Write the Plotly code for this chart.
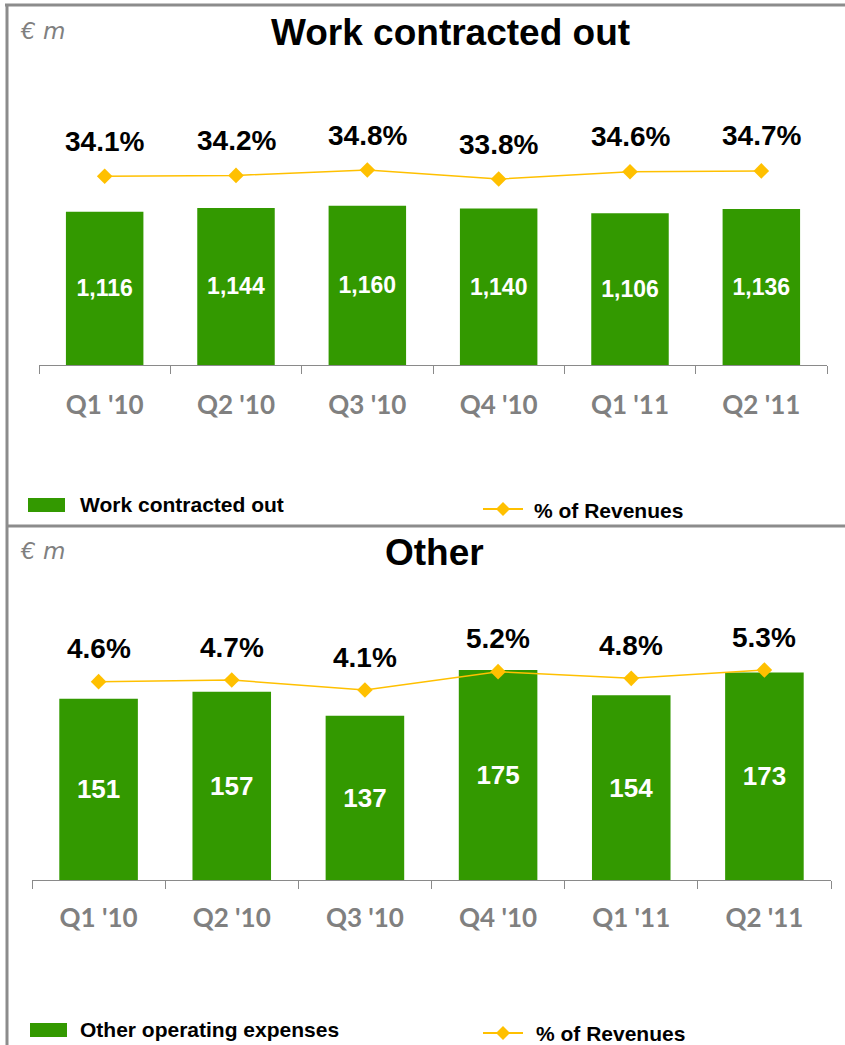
import plotly.graph_objects as go

# ---- data ----
quarters = ["Q1 '10", "Q2 '10", "Q3 '10", "Q4 '10", "Q1 '11", "Q2 '11"]
work_contracted = [1116, 1144, 1160, 1140, 1106, 1136]
work_pct = [34.1, 34.2, 34.8, 33.8, 34.6, 34.7]
other_expenses = [151, 157, 137, 175, 154, 173]
other_pct = [4.6, 4.7, 4.1, 5.2, 4.8, 5.3]

W, H = 845, 1045


def px(x):
    return x / W


def py(y):
    return 1 - y / H


GREEN = "#339900"
GOLD = "#FFC000"
GRAY = "#808080"
BORDER = "#8c8c8c"
ARIAL = "Liberation Sans, Arial, sans-serif"

fig = go.Figure()

fig.add_trace(go.Bar(
    x=quarters, y=work_contracted, xaxis="x", yaxis="y",
    marker=dict(color=GREEN, line=dict(width=0)),
    texttemplate="%{y:,}", textposition="inside", insidetextanchor="middle",
    textangle=0, constraintext="none",
    textfont=dict(family=ARIAL, size=23, color="white", weight="bold"),
    hoverinfo="skip", showlegend=False, name="Work contracted out"))
fig.add_trace(go.Scatter(
    x=quarters, y=work_pct, xaxis="x", yaxis="y2", mode="lines+markers",
    line=dict(color=GOLD, width=1.5),
    marker=dict(symbol="diamond", size=12, color=GOLD),
    hoverinfo="skip", showlegend=False, name="% of Revenues"))

fig.add_trace(go.Bar(
    x=quarters, y=other_expenses, xaxis="x2", yaxis="y3",
    marker=dict(color=GREEN, line=dict(width=0)),
    texttemplate="%{y:,}", textposition="inside", insidetextanchor="middle",
    textangle=0, constraintext="none",
    textfont=dict(family=ARIAL, size=26, color="white", weight="bold"),
    hoverinfo="skip", showlegend=False, name="Other operating expenses"))
fig.add_trace(go.Scatter(
    x=quarters, y=other_pct, xaxis="x2", yaxis="y4", mode="lines+markers",
    line=dict(color=GOLD, width=1.5),
    marker=dict(symbol="diamond", size=12, color=GOLD),
    hoverinfo="skip", showlegend=False, name="% of Revenues"))

xcommon = dict(type="category", range=[-0.5, 5.5], showline=True,
               linecolor="#8a8a8a", linewidth=1, ticks="outside",
               tickson="boundaries", ticklen=8, tickcolor="#8a8a8a",
               showgrid=False, zeroline=False,
               tickfont=dict(family="Lato, Open Sans, sans-serif", size=26,
                             color=GRAY, weight="bold"),
               fixedrange=True)

fig.update_layout(
    width=W, height=H,
    margin=dict(l=0, r=0, t=0, b=0),
    paper_bgcolor="white", plot_bgcolor="white",
    bargap=0.41,
    xaxis=dict(domain=[px(39), px(827)], anchor="y", ticklabelstandoff=17,
               **xcommon),
    yaxis=dict(domain=[py(365), py(100)], range=[0, 1930], visible=False),
    yaxis2=dict(overlaying="y", range=[13.13, 42.58], visible=False),
    xaxis2=dict(domain=[px(32), px(831)], anchor="y3", ticklabelstandoff=15,
                **xcommon),
    yaxis3=dict(domain=[py(880), py(620)], range=[0, 216.7], visible=False),
    yaxis4=dict(overlaying="y3", range=[-7.3, 8.3], visible=False),
)

ann = []
pct_font = dict(family=ARIAL, size=28, color="black", weight="bold")
for q, v in zip(quarters, work_pct):
    ann.append(dict(x=q, y=v, xref="x", yref="y2", text=f"{v:.1f}%",
                    showarrow=False, yshift=35, font=pct_font))
for q, v in zip(quarters, other_pct):
    ann.append(dict(x=q, y=v, xref="x2", yref="y4", text=f"{v:.1f}%",
                    showarrow=False, yshift=33, font=pct_font))

title_font = dict(family=ARIAL, size=37, color="black", weight="bold")
unit_font = dict(family="DejaVu Sans, sans-serif", size=23, color=GRAY,
                 style="italic")
legend_font = dict(family=ARIAL, size=21, color="black", weight="bold")


def paper_text(x, y, text, font, xanchor="center"):
    return dict(x=px(x), y=py(y), xref="paper", yref="paper", text=text,
                showarrow=False, font=font, xanchor=xanchor, yanchor="middle")


ann += [
    paper_text(450, 32, "Work contracted out", title_font),
    paper_text(435, 552, "Other", title_font),
    paper_text(18, 31, "€ m", unit_font, "left"),
    paper_text(18, 551, "€ m", unit_font, "left"),
    paper_text(78, 505, "Work contracted out", legend_font, "left"),
    paper_text(532, 510, "% of Revenues", legend_font, "left"),
    paper_text(78, 1029, "Other operating expenses", legend_font, "left"),
    paper_text(534, 1033, "% of Revenues", legend_font, "left"),
]

shapes = []
# frame lines
line_style = dict(color=BORDER, width=3)
shapes.append(dict(type="line", xref="paper", yref="paper", x0=px(5), x1=1,
                   y0=py(5), y1=py(5), line=line_style))
shapes.append(dict(type="line", xref="paper", yref="paper", x0=px(7), x1=px(7),
                   y0=py(4), y1=0, line=line_style))
shapes.append(dict(type="line", xref="paper", yref="paper", x0=px(7), x1=1,
                   y0=py(526), y1=py(526), line=line_style))


def legend_swatches(rx0, ry0, lx0, ly):
    out = [dict(type="rect", xref="paper", yref="paper",
                x0=px(rx0), x1=px(rx0 + 37), y0=py(ry0), y1=py(ry0 + 14),
                fillcolor=GREEN, line=dict(width=0))]
    out.append(dict(type="line", xref="paper", yref="paper",
                    x0=px(lx0), x1=px(lx0 + 40), y0=py(ly), y1=py(ly),
                    line=dict(color=GOLD, width=2)))
    cx = lx0 + 20
    out.append(dict(type="path", xref="paper", yref="paper",
                    path=(f"M {px(cx - 7)} {py(ly)} L {px(cx)} {py(ly - 7)} "
                          f"L {px(cx + 7)} {py(ly)} L {px(cx)} {py(ly + 7)} Z"),
                    fillcolor=GOLD, line=dict(width=0)))
    return out


shapes += legend_swatches(28, 498, 483, 509)
shapes += legend_swatches(30, 1023, 483, 1033)

fig.update_layout(annotations=ann, shapes=shapes)

fig.write_html(
    "out.html",
    config={"displayModeBar": False, "staticPlot": True},
    post_script="document.body.style.margin='0';document.body.style.overflow='hidden';",
)
